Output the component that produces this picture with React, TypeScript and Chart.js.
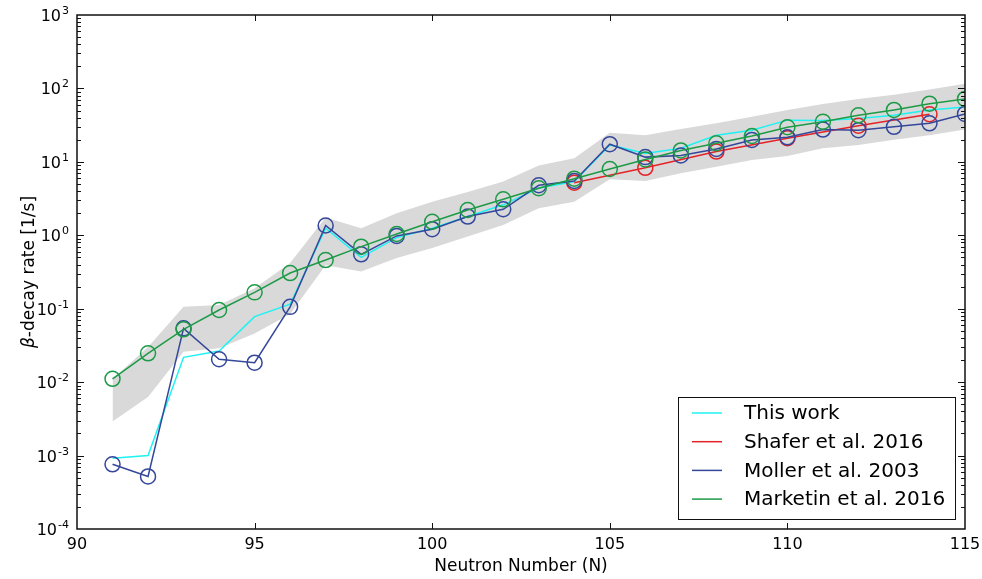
import React, { useEffect, useRef } from 'react';
import { Chart, registerables } from 'chart.js';

Chart.register(...registerables);

// Neutron numbers
const neutronNumbers = [91, 92, 93, 94, 95, 96, 97, 98, 99, 100, 101, 102, 103, 104, 105, 106, 107, 108, 109, 110, 111, 112, 113, 114, 115];
// This work (cyan line)
const thisWork = [9.2e-4, 1.0e-3, 0.0218, 0.0266, 0.078, 0.115, 1.25, 0.5, 0.93, 1.25, 1.8, 2.6, 4.4, 5.4, 17, 13, 15.3, 23, 27, 37, 36.5, 39, 43, 51, 56];
// Shafer et al. 2016 (even N only)
const shaferN = [104, 106, 108, 110, 112, 114];
const shafer = [5.2, 8.3, 13.8, 21, 31, 44.5];
// Moller et al. 2003
const moller = [7.6e-4, 5.2e-4, 0.054, 0.0205, 0.0184, 0.106, 1.36, 0.55, 0.98, 1.21, 1.8, 2.26, 4.8, 5.5, 17.4, 11.6, 12.2, 15, 19.9, 21.6, 27.5, 27, 30, 33.5, 45];
// Marketin et al. 2016
const marketin = [0.0111, 0.0247, 0.0524, 0.096, 0.167, 0.306, 0.46, 0.7, 1.04, 1.53, 2.21, 3.09, 4.37, 5.9, 8.0, 10.8, 14.3, 17.9, 22.5, 29.6, 35.3, 43, 51, 62, 72];
// Grey uncertainty band
const bandUpper = [0.011, 0.03, 0.106, 0.112, 0.19, 0.42, 1.75, 1.25, 2.0, 2.87, 3.9, 5.4, 8.9, 11.2, 25, 23, 28, 33.6, 41, 51, 61.5, 72, 82, 97, 116];
const bandLower = [0.0029, 0.0063, 0.026, 0.029, 0.046, 0.085, 0.39, 0.32, 0.49, 0.67, 0.96, 1.38, 2.33, 2.87, 5.8, 5.5, 7.0, 8.6, 10.6, 12, 15.3, 17, 20, 23, 27.5];

const xTicks = [90, 95, 100, 105, 110, 115];
const yExponents = [-4, -3, -2, -1, 0, 1, 2, 3];

const legendLabels = ['This work', 'Shafer et al. 2016', 'Moller et al. 2003', 'Marketin et al. 2016'];

const COLORS = {
  cyan: '#1ff2f2',
  red: '#e52226',
  blue: '#34479a',
  green: '#1d9a46',
  band: '#d9d9d9',
};
const legendColors = [COLORS.cyan, COLORS.red, COLORS.blue, COLORS.green];

const FONT = '"DejaVu Sans", "Liberation Sans", sans-serif';

const pts = (xs: number[], ys: number[]) => xs.map((x, i) => ({ x, y: ys[i] }));

const decorPlugin = {
  id: 'decor',
  afterDatasetsDraw(chart: any) {
    const { ctx, chartArea: a, scales } = chart;
    const x = scales.x;
    const y = scales.y;
    ctx.save();
    ctx.strokeStyle = '#111';
    ctx.fillStyle = '#000';

    // ticks
    ctx.lineWidth = 1;
    ctx.beginPath();
    xTicks.forEach((v) => {
      const px = Math.round(x.getPixelForValue(v)) + 0.5;
      if (v > 90 && v < 115) {
        ctx.moveTo(px, a.bottom);
        ctx.lineTo(px, a.bottom - 6);
        ctx.moveTo(px, a.top);
        ctx.lineTo(px, a.top + 6);
      }
    });
    yExponents.forEach((e) => {
      const major = Math.pow(10, e);
      const py = Math.round(y.getPixelForValue(major)) + 0.5;
      if (e > -4 && e < 3) {
        ctx.moveTo(a.left, py);
        ctx.lineTo(a.left + 7, py);
        ctx.moveTo(a.right, py);
        ctx.lineTo(a.right - 7, py);
      }
      if (e < 3) {
        for (let m = 2; m <= 9; m++) {
          const my = Math.round(y.getPixelForValue(m * major)) + 0.5;
          ctx.moveTo(a.left, my);
          ctx.lineTo(a.left + 4, my);
          ctx.moveTo(a.right, my);
          ctx.lineTo(a.right - 4, my);
        }
      }
    });
    ctx.stroke();

    // frame
    ctx.lineWidth = 1.5;
    ctx.strokeRect(a.left, a.top, a.right - a.left, a.bottom - a.top);

    // x tick labels
    ctx.font = `16px ${FONT}`;
    ctx.textAlign = 'center';
    ctx.textBaseline = 'alphabetic';
    xTicks.forEach((v) => {
      ctx.fillText(String(v), x.getPixelForValue(v), a.bottom + 20);
    });

    // y tick labels
    const xEnd = a.left - 8;
    yExponents.forEach((e) => {
      const py = y.getPixelForValue(Math.pow(10, e));
      const exp = String(e);
      ctx.font = `11px ${FONT}`;
      const ew = ctx.measureText(exp).width;
      ctx.textAlign = 'left';
      ctx.fillText(exp, xEnd - ew, py - 1);
      ctx.font = `16px ${FONT}`;
      ctx.textAlign = 'right';
      ctx.fillText('10', xEnd - ew - 1, py + 6);
    });

    // x title
    ctx.font = `17px ${FONT}`;
    ctx.textAlign = 'center';
    ctx.fillText('Neutron Number (N)', (a.left + a.right) / 2, a.bottom + 42);

    // y title
    ctx.save();
    ctx.translate(34, (a.top + a.bottom) / 2);
    ctx.rotate(-Math.PI / 2);
    ctx.font = `italic 17px ${FONT}`;
    const bw = ctx.measureText('β').width;
    ctx.font = `17px ${FONT}`;
    const rest = '-decay rate [1/s]';
    const rw = ctx.measureText(rest).width;
    const total = bw + rw;
    ctx.textAlign = 'left';
    ctx.font = `italic 17px ${FONT}`;
    ctx.fillText('β', -total / 2, 0);
    ctx.font = `17px ${FONT}`;
    ctx.fillText(rest, -total / 2 + bw, 0);
    ctx.restore();

    // legend
    const lx = 678, ly = 397, lw = 277, lh = 122;
    ctx.fillStyle = '#ffffff';
    ctx.fillRect(lx, ly, lw, lh);
    ctx.lineWidth = 1;
    ctx.strokeStyle = '#111';
    ctx.strokeRect(lx + 0.5, ly + 0.5, lw, lh);
    ctx.font = `20px ${FONT}`;
    ctx.textAlign = 'left';
    ctx.textBaseline = 'middle';
    legendLabels.forEach((lab, i) => {
      const ry = ly + 16 + i * 28.7;
      ctx.strokeStyle = legendColors[i];
      ctx.lineWidth = 1.5;
      ctx.beginPath();
      ctx.moveTo(lx + 14, ry);
      ctx.lineTo(lx + 44, ry);
      ctx.stroke();
      ctx.fillStyle = '#000';
      ctx.fillText(lab, lx + 66, ry + 1);
    });
    ctx.restore();
  },
};

const lineDs = (label: string, data: any[], color: string, order: number, markers: boolean) => ({
  label,
  data,
  borderColor: color,
  backgroundColor: 'rgba(0,0,0,0)',
  borderWidth: 1.5,
  pointRadius: markers ? 7.5 : 0,
  pointStyle: 'circle',
  pointBorderColor: color,
  pointBackgroundColor: 'rgba(0,0,0,0)',
  pointBorderWidth: 1.5,
  fill: false,
  tension: 0,
  order,
});

export default function App() {
  const ref = useRef<HTMLCanvasElement | null>(null);
  useEffect(() => {
    if (!ref.current) return;
    const chart = new Chart(ref.current, {
      type: 'line',
      data: {
        datasets: [
          {
            label: 'band-upper',
            data: pts(neutronNumbers, bandUpper),
            borderWidth: 0,
            borderColor: 'rgba(0,0,0,0)',
            backgroundColor: COLORS.band,
            pointRadius: 0,
            fill: '+1',
            order: 10,
          } as any,
          {
            label: 'band-lower',
            data: pts(neutronNumbers, bandLower),
            borderWidth: 0,
            borderColor: 'rgba(0,0,0,0)',
            pointRadius: 0,
            fill: false,
            order: 9,
          } as any,
          lineDs('This work', pts(neutronNumbers, thisWork), COLORS.cyan, 4, false),
          lineDs('Shafer et al. 2016', pts(shaferN, shafer), COLORS.red, 3, true),
          lineDs('Moller et al. 2003', pts(neutronNumbers, moller), COLORS.blue, 2, true),
          lineDs('Marketin et al. 2016', pts(neutronNumbers, marketin), COLORS.green, 1, true),
        ],
      },
      options: {
        animation: false,
        responsive: false,
        events: [],
        layout: { padding: { left: 77, top: 15, right: 17, bottom: 50 } },
        plugins: { legend: { display: false }, tooltip: { enabled: false } },
        scales: {
          x: { type: 'linear', min: 90, max: 115, display: false },
          y: { type: 'logarithmic', min: 1e-4, max: 1e3, display: false },
        },
      },
      plugins: [decorPlugin],
    });
    return () => chart.destroy();
  }, []);
  return (
    <div style={{ position: 'fixed', left: 0, top: 0, width: 982, height: 579, background: '#fff' }}>
      <canvas ref={ref} width={982} height={579} style={{ width: 982, height: 579 }} />
    </div>
  );
}
